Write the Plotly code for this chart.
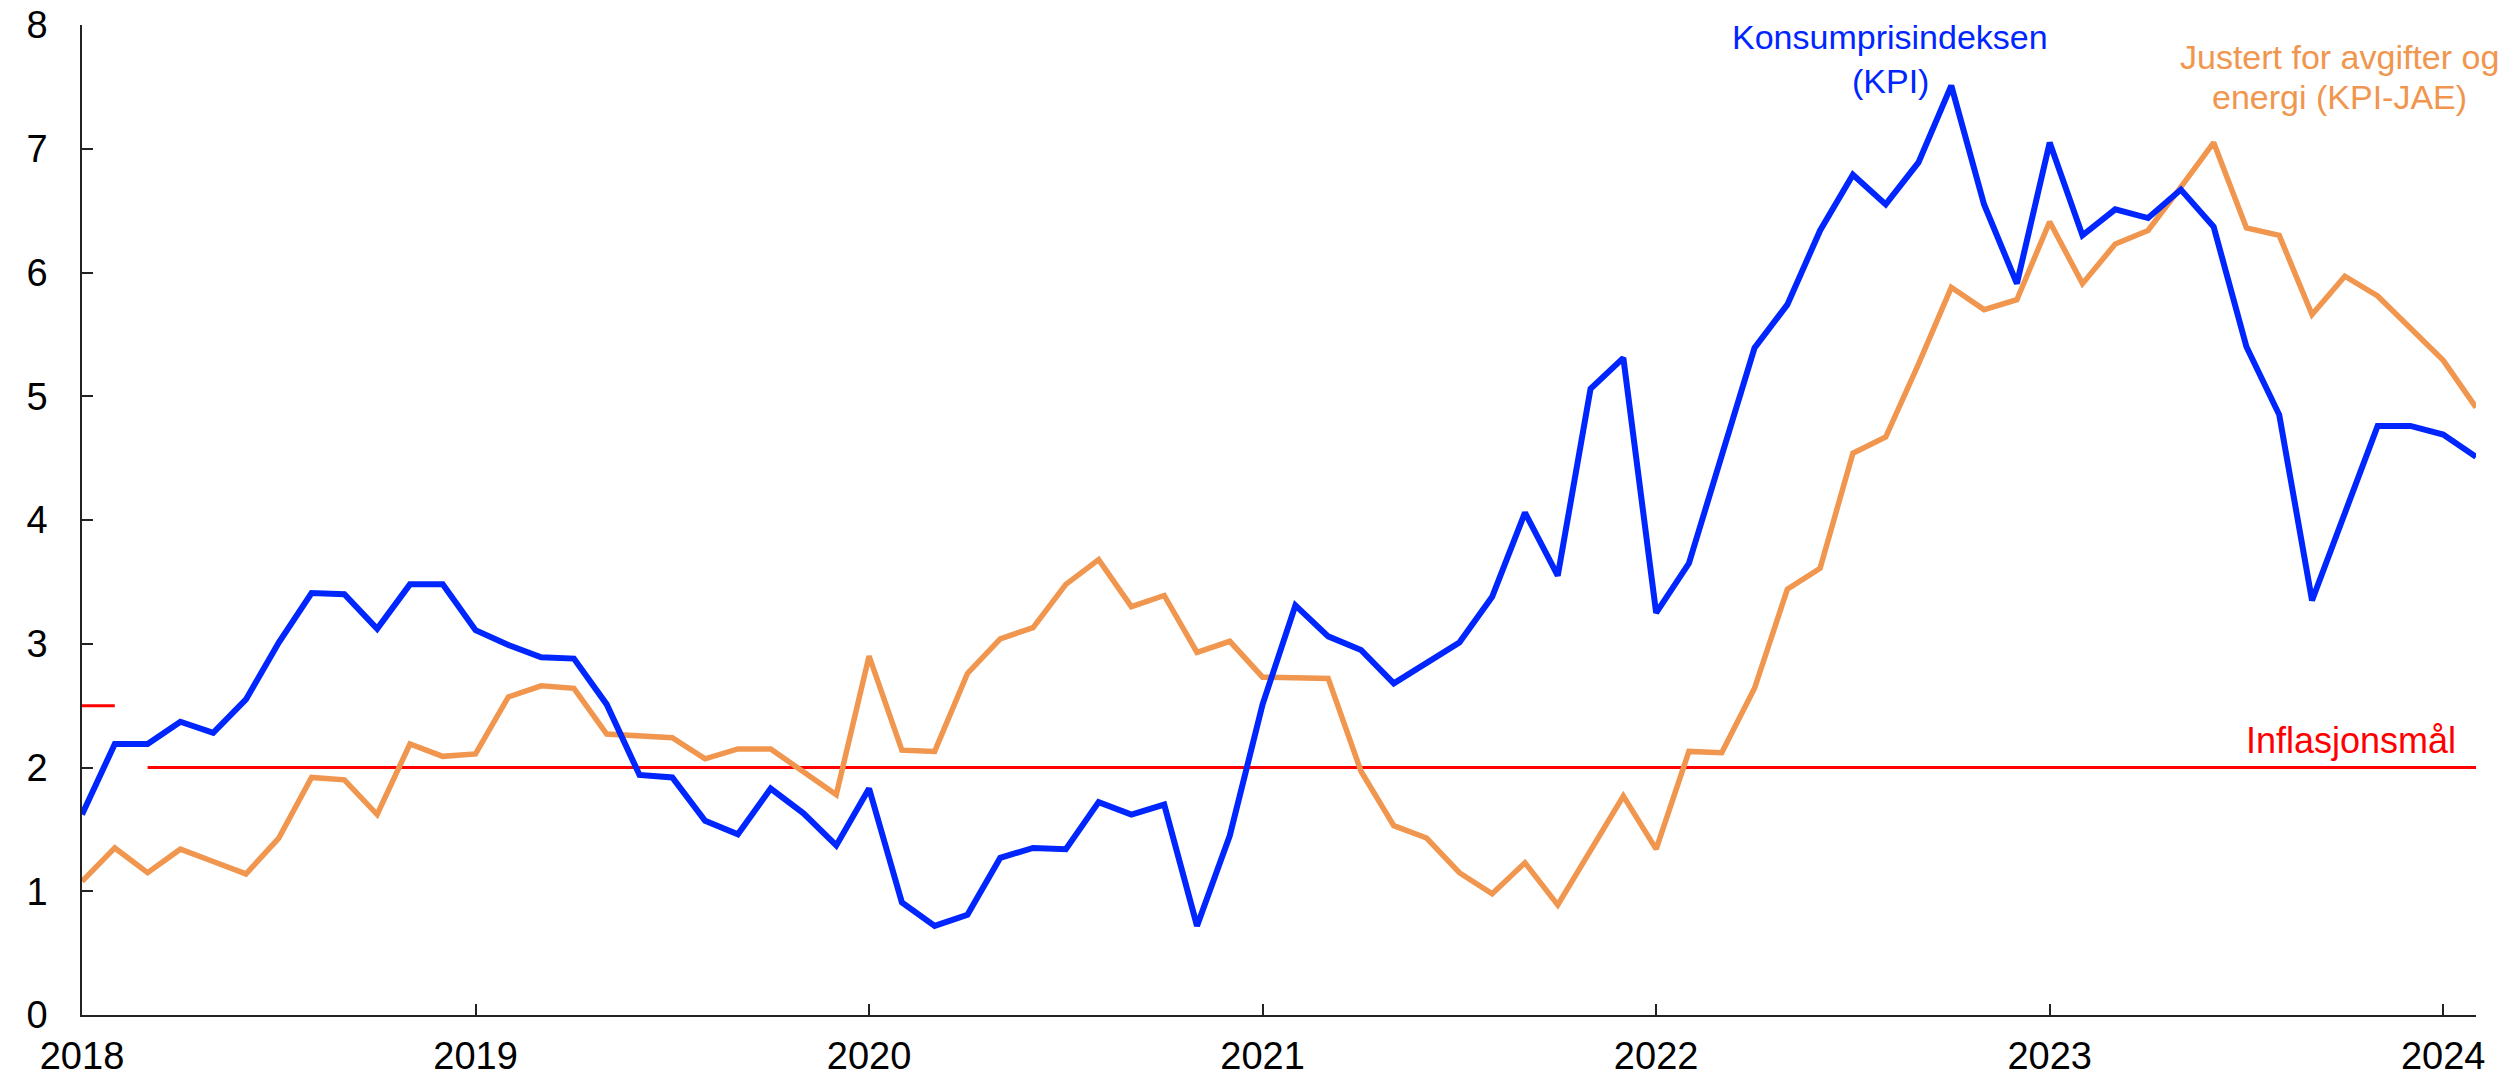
import plotly.graph_objects as go

years = ["2018", "2019", "2020", "2021", "2022", "2023", "2024"]

kpi = [
    1.62, 2.19, 2.19, 2.37, 2.28, 2.55, 3.01, 3.41, 3.40, 3.12, 3.48, 3.48,
    3.11, 2.99, 2.89, 2.88, 2.51, 1.94, 1.92, 1.57, 1.46, 1.83, 1.63, 1.37,
    1.83, 0.91, 0.72, 0.81, 1.27, 1.35, 1.34, 1.72, 1.62, 1.70, 0.72, 1.45,
    2.51, 3.31, 3.06, 2.95, 2.68, 2.84, 3.01, 3.38, 4.06, 3.55, 5.06, 5.31,
    3.25, 3.65, 4.52, 5.39, 5.74, 6.34, 6.79, 6.55, 6.89, 7.51, 6.55, 5.91,
    7.05, 6.30, 6.51, 6.44, 6.67, 6.37, 5.40, 4.85, 3.35, 4.06, 4.76, 4.76,
    4.69, 4.51,
]

kpi_jae = [
    1.08, 1.35, 1.15, 1.34, 1.24, 1.14, 1.43, 1.92, 1.90, 1.62, 2.19, 2.09,
    2.11, 2.57, 2.66, 2.64, 2.27, 2.26, 2.24, 2.07, 2.15, 2.15, 1.97, 1.78,
    2.90, 2.14, 2.13, 2.76, 3.04, 3.13, 3.48, 3.68, 3.30, 3.39, 2.93, 3.02,
    2.73, 2.72, 2.72, 1.97, 1.53, 1.43, 1.15, 0.98, 1.23, 0.89, 1.33, 1.77,
    1.34, 2.13, 2.12, 2.64, 3.44, 3.61, 4.54, 4.67, 5.26, 5.88, 5.70, 5.78,
    6.41, 5.91, 6.23, 6.34, 6.69, 7.05, 6.36, 6.30, 5.66, 5.97, 5.81, 5.55,
    5.29, 4.91,
]

# inflation target periods (month index start, end, level)
target_start = [0, 2]
target_end = [1, 73]
target_level = [2.5, 2.0]

kpi_label = ["Konsumprisindeksen", "(KPI)"]
jae_label = ["Justert for avgifter og", "energi (KPI-JAE)"]
target_label = "Inflasjonsmål"

months = list(range(len(kpi)))
year_ticks = [12 * i for i in range(len(years))]

BLUE = "rgb(0,38,255)"
ORANGE = "rgb(240,150,78)"
RED = "rgb(255,0,0)"
FONT = "Liberation Sans, Arial, sans-serif"
AX = "#222"

fig = go.Figure()

for s, e, lvl in zip(target_start, target_end, target_level):
    fig.add_trace(go.Scatter(x=[s, e], y=[lvl, lvl], mode="lines",
                             line=dict(color=RED, width=3), showlegend=False,
                             hoverinfo="skip"))

fig.add_trace(go.Scatter(x=months, y=kpi_jae, mode="lines",
                         line=dict(color=ORANGE, width=5.5), name="KPI-JAE",
                         showlegend=False))
fig.add_trace(go.Scatter(x=months, y=kpi, mode="lines",
                         line=dict(color=BLUE, width=6), name="KPI",
                         showlegend=False))

for txt, yy in zip(kpi_label, [7.90, 7.55]):
    fig.add_annotation(x=55.14, y=yy, xref="x", yref="y", text=txt,
                       showarrow=False, xanchor="center", yanchor="middle",
                       font=dict(family=FONT, size=34, color=BLUE))
for txt, yy in zip(jae_label, [7.74, 7.42]):
    fig.add_annotation(x=68.83, y=yy, xref="x", yref="y", text=txt,
                       showarrow=False, xanchor="center", yanchor="middle",
                       font=dict(family=FONT, size=34, color=ORANGE))
fig.add_annotation(x=72.45, y=2.22, xref="x", yref="y", text=target_label,
                   showarrow=False, xanchor="right", yanchor="middle",
                   font=dict(family=FONT, size=36, color=RED))

fig.update_layout(
    width=2509, height=1077,
    margin=dict(l=74, r=41, t=17, b=70, autoexpand=False),
    plot_bgcolor="white", paper_bgcolor="white",
    font=dict(family=FONT, size=38, color="black"),
    showlegend=False,
)
fig.update_xaxes(range=[0, 73], tickvals=year_ticks, ticktext=years,
                 showgrid=False, zeroline=False, showline=True, automargin=False,
                 linecolor=AX, linewidth=1.5, ticks="inside", ticklen=11,
                 tickcolor=AX, tickwidth=1.5, ticklabelstandoff=7,
                 ticklabeloverflow="allow",
                 tickfont=dict(family=FONT, size=38, color="black"))
fig.update_yaxes(range=[0, 8], tickvals=list(range(9)),
                 showgrid=False, zeroline=False, showline=True, automargin=False,
                 linecolor=AX, linewidth=1.5, ticks="inside", ticklen=11,
                 tickcolor=AX, tickwidth=1.5, ticklabelstandoff=25,
                 ticklabeloverflow="allow",
                 tickfont=dict(family=FONT, size=38, color="black"))

fig.write_html("out.html")
